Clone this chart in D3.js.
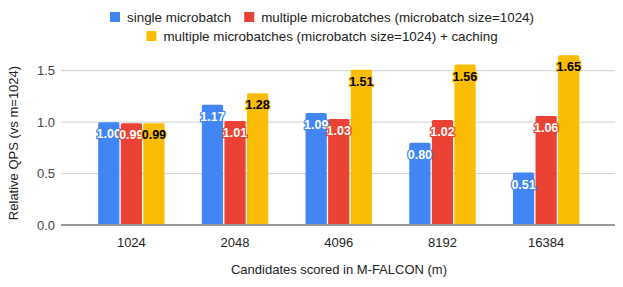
<!DOCTYPE html>
<html>
<head>
<meta charset="utf-8">
<script src="https://cdn.jsdelivr.net/npm/d3@7"></script>
<style>
  body { margin: 0; background: #fff; }
  svg { display: block; font-family: "Liberation Sans", Arial, sans-serif; }
</style>
</head>
<body>
<svg id="chart" width="623" height="287"></svg>
<script>
// data
var categories = ["1024", "2048", "4096", "8192", "16384"];
var seriesNames = [
  "single microbatch",
  "multiple microbatches (microbatch size=1024)",
  "multiple microbatches (microbatch size=1024) + caching"
];
var singleMicrobatch = [1.00, 1.17, 1.09, 0.80, 0.51];
var multiMicrobatch = [0.99, 1.01, 1.03, 1.02, 1.06];
var multiCaching = [0.99, 1.28, 1.51, 1.56, 1.65];
var yTicks = [0, 0.5, 1.0, 1.5];

var colors = ["#4285f4", "#ea4335", "#fbbc04"];
var labelFill = ["#fff", "#fff", "#000"];
var series = [singleMicrobatch, multiMicrobatch, multiCaching];

var svg = d3.select("#chart");

var x = d3.scaleBand()
  .domain(categories)
  .range([79.5, 598])
  .paddingInner(0.36)
  .paddingOuter(0.18);

var xInner = d3.scaleBand()
  .domain([0, 1, 2])
  .range([0, x.bandwidth()])
  .paddingInner(0.06);

var y = d3.scaleLinear()
  .domain([0, 1.75])
  .range([225, 45]);

// grid lines
svg.append("g")
  .selectAll("line")
  .data(yTicks.filter(function(d) { return d > 0; }))
  .join("line")
    .attr("x1", 61).attr("x2", 615)
    .attr("y1", function(d) { return y(d); })
    .attr("y2", function(d) { return y(d); })
    .style("stroke", "#d0d0d0")
    .style("stroke-width", "1px");

// y axis labels
var yAxis = d3.axisLeft(y).tickValues(yTicks).tickFormat(d3.format(".1f")).tickSize(0).tickPadding(0);
svg.append("g")
  .attr("transform", "translate(55,0)")
  .call(yAxis)
  .attr("font-family", null)
  .attr("font-size", null)
  .call(function(g) {
    g.select(".domain").remove();
    g.selectAll("text").style("font-size", "13px").style("fill", "#444");
  });

// bars
var groups = svg.append("g")
  .selectAll("g")
  .data(categories)
  .join("g")
    .attr("transform", function(d) { return "translate(" + x(d) + ",0)"; });

groups.selectAll("rect")
  .data(function(d, i) { return series.map(function(s, k) { return { k: k, v: s[i] }; }); })
  .join("rect")
    .attr("x", function(d) { return xInner(d.k); })
    .attr("y", function(d) { return y(d.v); })
    .attr("width", xInner.bandwidth())
    .attr("height", function(d) { return y(0) - y(d.v); })
    .attr("rx", 1.5)
    .style("fill", function(d) { return colors[d.k]; });

// data labels
groups.selectAll("text")
  .data(function(d, i) { return series.map(function(s, k) { return { k: k, v: s[i] }; }); })
  .join("text")
    .attr("x", function(d) { return xInner(d.k) + xInner.bandwidth() / 2; })
    .attr("y", function(d) { return y(d.v) + 16; })
    .attr("text-anchor", "middle")
    .style("font-size", "12.5px")
    .style("font-weight", "bold")
    .style("fill", function(d) { return labelFill[d.k]; })
    .style("stroke", function(d) { return colors[d.k]; })
    .style("stroke-width", "2.5px")
    .style("paint-order", "stroke")
    .style("stroke-linejoin", "round")
    .text(function(d) { return d3.format(".2f")(d.v); });

// zero axis line
svg.append("line")
  .attr("x1", 61).attr("x2", 615)
  .attr("y1", y(0)).attr("y2", y(0))
  .style("stroke", "#999")
  .style("stroke-width", "2px");

// x axis labels
var xAxis = d3.axisBottom(x).tickSize(0).tickPadding(0);
svg.append("g")
  .attr("transform", "translate(0,238)")
  .call(xAxis)
  .attr("font-family", null)
  .attr("font-size", null)
  .call(function(g) {
    g.select(".domain").remove();
    g.selectAll("text").style("font-size", "13px").style("fill", "#222");
  });

// axis titles
svg.append("text")
  .attr("x", 339).attr("y", 274)
  .attr("text-anchor", "middle")
  .style("font-size", "13px")
  .style("fill", "#222")
  .text("Candidates scored in M-FALCON (m)");

svg.append("text")
  .attr("transform", "translate(18,143) rotate(-90)")
  .attr("text-anchor", "middle")
  .style("font-size", "13px")
  .style("fill", "#222")
  .text("Relative QPS (vs m=1024)");

// legend, two centered rows
var legendRows = [[0, 1], [2]];
var rowY = [17, 36];
legendRows.forEach(function(row, r) {
  var g = svg.append("g");
  var cursor = 0;
  row.forEach(function(k) {
    g.append("rect")
      .attr("x", cursor).attr("y", rowY[r] - 5)
      .attr("width", 10).attr("height", 10)
      .style("fill", colors[k]);
    var t = g.append("text")
      .attr("x", cursor + 17).attr("y", rowY[r] + 4.5)
      .style("font-size", "13.4px")
      .style("fill", "#222")
      .text(seriesNames[k]);
    cursor += 17 + t.node().getComputedTextLength() + 13;
  });
  var w = cursor - 13;
  g.attr("transform", "translate(" + (322 - w / 2) + ",0)");
});
</script>
</body>
</html>
